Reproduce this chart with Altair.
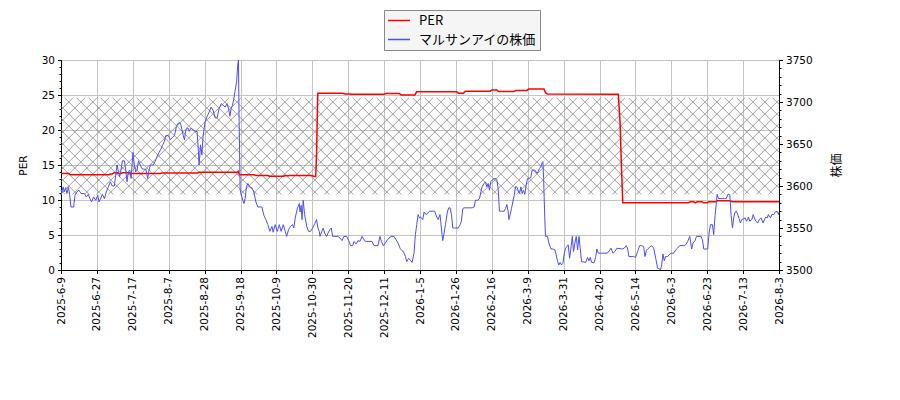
import pandas as pd
import altair as alt

# x is a position index along the time axis (one tick every 21 units, 20 intervals)
tick_labels = ["2025-6-9", "2025-6-27", "2025-7-17", "2025-8-7", "2025-8-28", "2025-9-18",
               "2025-10-9", "2025-10-30", "2025-11-20", "2025-12-11", "2026-1-5", "2026-1-26",
               "2026-2-16", "2026-3-9", "2026-3-31", "2026-4-20", "2026-5-14", "2026-6-3",
               "2026-6-23", "2026-7-13", "2026-8-3"]
tick_pos = [i * 21 for i in range(len(tick_labels))]

# share price (right axis)
price_x = [0.0, 1.2, 1.9, 2.7, 3.5, 4.3, 5.1, 5.8, 7.4, 8.2, 9.2, 10.5, 11.7, 13.6, 14.8, 16.0, 16.9, 17.9, 19.1, 20.3,
           21.5, 22.2, 23.4, 24.2, 25.4, 26.5, 27.7, 28.9, 30.0, 31.2, 32.0, 32.8, 33.6, 34.3, 35.1, 35.9, 37.1, 37.9, 38.6, 39.4,
           40.2, 41.0, 42.1, 42.9, 43.7, 44.5, 45.3, 46.4, 47.2, 48.4, 49.6, 50.7, 51.5, 52.3, 53.9, 55.0, 56.2, 57.4, 58.5, 59.3,
           60.5, 61.3, 62.8, 64.0, 65.2, 66.4, 67.5, 68.7, 69.9,
           71.4, 72.2, 73.0, 74.2, 74.9, 76.1, 77.3, 78.5, 79.6, 80.4, 80.8, 81.6, 82.4, 83.1, 84.3, 85.5, 86.7, 87.8, 89.0, 90.2,
           91.3, 92.5, 93.7, 94.9, 96.0, 97.2, 98.0, 98.8, 99.5, 100.3, 101.1, 101.9, 102.7, 103.4, 103.8, 104.2, 104.8, 105.8, 107.0, 107.7,
           108.5, 109.3, 110.5, 111.6, 112.8, 114.0, 115.2, 117.5, 118.7, 119.8, 121.0, 122.2, 123.4, 124.1, 125.3, 126.5, 127.7, 128.8, 130.0, 131.2,
           132.0, 133.1, 134.3, 135.5, 136.2, 137.0, 138.2, 139.4,
           139.8, 140.5, 141.0, 141.7, 142.5, 143.7, 144.8, 146.0, 147.2, 148.4, 149.5, 150.3, 151.1, 151.5, 152.6, 153.4, 154.2, 155.4, 156.2, 157.3,
           158.1, 158.9, 160.1, 162.0, 163.2, 164.4, 165.5, 167.1, 168.3, 169.4, 170.6, 171.4, 172.6, 173.7, 174.9, 176.1, 177.2, 178.4, 180.8, 181.9,
           183.1, 185.4, 186.6, 187.4, 188.6, 189.7, 190.9, 192.1, 192.9, 194.8, 196.0, 197.2, 198.3, 199.5, 200.3, 201.5, 202.2, 203.4, 204.6, 205.4,
           206.5, 207.3, 208.1, 208.9, 209.7, 210.4, 211.6,
           212.4, 213.5, 214.3, 215.5, 218.6, 219.8, 220.6, 221.7, 222.1, 222.9, 223.3, 224.1, 224.9, 226.0, 226.8, 227.6, 228.4, 229.2, 230.3, 232.3,
           233.5, 234.2, 235.0, 235.8, 240.5, 241.7, 242.4, 243.6, 244.8, 245.6, 246.3, 247.5, 248.3, 249.1, 249.9, 250.6, 251.4, 252.6, 253.8, 254.9,
           255.7, 256.5, 257.7, 259.2, 260.0, 260.8, 261.6, 262.0, 262.7, 263.5, 264.3, 265.1, 265.9, 266.6, 267.4, 268.2, 269.0, 269.8, 270.5, 271.3,
           272.1, 272.9, 273.7, 274.8, 275.6, 277.2, 278.4, 279.1, 279.9, 280.7, 281.5,
           281.9, 282.3, 282.7, 283.0, 283.4, 284.6, 285.4, 286.6, 287.7, 288.9, 289.7, 290.5, 291.2, 292.0, 292.8, 293.6, 294.4, 295.2, 295.9, 296.7,
           297.5, 298.3, 299.1, 299.8, 300.6, 301.4, 302.2, 303.0, 303.7, 304.5, 306.9, 308.0, 308.8, 309.6, 310.4, 311.9, 312.7, 313.5, 314.3, 319.4,
           320.5, 321.7, 322.9, 324.0, 325.2, 328.3, 329.5, 330.7, 331.5, 332.2, 335.0, 336.1, 337.3, 338.5, 339.7, 340.8, 341.6, 342.4, 343.2, 344.3,
           345.5, 346.7, 347.9, 349.0, 349.8,
           350.6, 351.4, 352.1, 352.9, 353.7, 354.9, 356.1, 357.2, 358.4, 359.6, 360.7, 361.9, 364.3, 365.4, 366.6, 367.8, 368.9, 369.7, 370.9, 371.7,
           374.4, 375.2, 376.0, 378.3, 379.1, 379.9, 381.0, 381.8, 382.6, 383.4, 383.8, 384.6, 388.1, 389.2, 390.0, 391.2, 392.0, 392.8, 393.5, 394.3,
           395.1, 395.9, 396.7, 397.4, 398.2, 399.4, 400.2, 401.0, 402.1, 402.9, 404.1, 404.9, 405.6, 406.4, 407.6, 408.4, 409.5, 410.7, 411.5, 412.3,
           413.1, 413.8, 415.0, 415.8, 417.0, 417.8, 418.9, 419.7, 420.0]
price_y = [3589, 3599, 3593, 3598, 3591, 3599, 3589, 3575, 3575, 3589, 3593, 3595, 3591, 3591, 3587, 3590, 3585, 3581, 3587, 3583,
           3589, 3581, 3586, 3590, 3585, 3593, 3599, 3605, 3600, 3600, 3613, 3625, 3617, 3611, 3619, 3630, 3630, 3619, 3605, 3617,
           3619, 3609, 3640, 3625, 3617, 3619, 3630, 3625, 3621, 3620, 3620, 3609, 3619, 3625, 3625, 3629, 3635, 3640, 3644, 3648,
           3653, 3660, 3660, 3655, 3658, 3660, 3671, 3675, 3675,
           3661, 3655, 3667, 3669, 3665, 3669, 3667, 3665, 3665, 3641, 3625, 3649, 3637, 3659, 3677, 3683, 3688, 3694, 3690, 3681,
           3681, 3692, 3698, 3696, 3694, 3698, 3692, 3683, 3692, 3696, 3704, 3714, 3724, 3744, 3750, 3677, 3595, 3587, 3579, 3585,
           3599, 3603, 3599, 3598, 3593, 3581, 3575, 3575, 3565, 3560, 3554, 3546, 3552, 3545, 3554, 3546, 3554, 3546, 3554, 3546,
           3540, 3548, 3552, 3554, 3550, 3562, 3573, 3579,
           3569, 3577, 3560, 3583, 3566, 3552, 3546, 3546, 3550, 3555, 3560, 3550, 3546, 3540, 3546, 3550, 3544, 3540, 3544, 3548,
           3550, 3540, 3540, 3540, 3538, 3535, 3540, 3540, 3535, 3529, 3529, 3534, 3531, 3535, 3534, 3540, 3536, 3534, 3534, 3534,
           3529, 3529, 3540, 3534, 3529, 3532, 3536, 3538, 3540, 3540, 3536, 3532, 3526, 3523, 3522, 3516, 3510, 3514, 3511, 3509,
           3520, 3542, 3554, 3566, 3562, 3563, 3560,
           3569, 3566, 3567, 3570, 3570, 3563, 3560, 3566, 3558, 3542, 3535, 3544, 3554, 3569, 3574, 3574, 3566, 3550, 3550, 3550,
           3554, 3558, 3573, 3574, 3574, 3575, 3583, 3583, 3585, 3593, 3599, 3603, 3605, 3599, 3603, 3595, 3605, 3608, 3609, 3608,
           3597, 3570, 3570, 3570, 3573, 3578, 3569, 3560, 3566, 3573, 3581, 3589, 3599, 3599, 3595, 3591, 3599, 3591, 3595, 3590,
           3601, 3609, 3609, 3610, 3619, 3619, 3615, 3617, 3621, 3623, 3628,
           3629, 3609, 3581, 3562, 3540, 3540, 3532, 3525, 3525, 3524, 3518, 3510, 3506, 3509, 3506, 3508, 3520, 3526, 3528, 3530,
           3514, 3526, 3540, 3522, 3532, 3540, 3524, 3540, 3526, 3510, 3509, 3515, 3511, 3515, 3509, 3509, 3515, 3525, 3520, 3520,
           3522, 3526, 3520, 3522, 3526, 3525, 3526, 3529, 3525, 3516, 3516, 3515, 3522, 3529, 3529, 3528, 3516, 3523, 3525, 3527,
           3529, 3526, 3514, 3502, 3502,
           3500, 3506, 3519, 3511, 3516, 3516, 3519, 3520, 3520, 3524, 3526, 3529, 3529, 3530, 3534, 3540, 3525, 3532, 3535, 3540,
           3540, 3536, 3525, 3525, 3544, 3554, 3554, 3542, 3565, 3581, 3590, 3585, 3585, 3585, 3590, 3590, 3565, 3550, 3562, 3569,
           3570, 3566, 3561, 3556, 3560, 3561, 3562, 3558, 3563, 3558, 3560, 3566, 3562, 3558, 3556, 3560, 3562, 3556, 3560, 3563,
           3562, 3566, 3562, 3566, 3566, 3569, 3570, 3566, 3569]

# PER (left axis)
per_x = [0, 4.5, 5.5, 28, 29, 30, 31, 33, 34, 35, 36, 40, 41, 58, 59, 80, 81, 103, 103.6, 104.4,
         113, 114, 121, 122, 130, 131, 133, 134, 147, 148, 149, 149.5, 150.2, 165, 166, 169, 170, 189, 190, 198,
         199, 207, 208, 231.5, 232.5, 235.5, 236.5, 251, 252, 255, 256, 265, 266, 272.5, 273.5, 282.5, 283.5, 284.5, 326, 327,
         328, 328.6, 367, 368, 370, 371, 372, 375, 376, 378, 379, 383, 384, 391.5, 392.5, 420]
per_y = [13.8, 13.8, 13.6, 13.6, 13.7, 13.7, 13.9, 13.9, 13.8, 13.8, 13.9, 13.9, 13.8, 13.8, 13.85, 13.85, 13.95, 13.95, 14.1, 13.6,
         13.6, 13.5, 13.5, 13.4, 13.4, 13.45, 13.45, 13.5, 13.5, 13.35, 13.35, 16.7, 25.25, 25.25, 25.15, 25.15, 25.1, 25.1, 25.2, 25.2,
         25.0, 25.0, 25.45, 25.45, 25.25, 25.25, 25.55, 25.55, 25.7, 25.7, 25.5, 25.5, 25.65, 25.65, 25.85, 25.85, 25.3, 25.15, 25.1, 21.2,
         13.6, 9.6, 9.6, 9.75, 9.75, 9.6, 9.75, 9.75, 9.6, 9.6, 9.75, 9.75, 9.9, 9.9, 9.75, 9.75]

band_low, band_high = 10.8, 24.6
series_names = ["PER", "マルサンアイの株価"]
series_colors = ["#ff0000", "#4d4dff"]

assert len(price_x) == len(price_y) and len(per_x) == len(per_y)

W, H = 718, 210
X_MAX = 420

price_df = pd.DataFrame({"x": price_x, "v": price_y, "series": series_names[1]})
per_df = pd.DataFrame({"x": per_x, "v": per_y, "series": series_names[0]})

# cross hatch for the band, lines at 45 degrees in screen space
step = 12
yb, yt = band_low / 30 * H, band_high / 30 * H
segs = []
c = -yt - step
while c < W + yt + step:
    a, b = max(0, yb + c), min(W, yt + c)
    if a < b:
        segs.append((a, a - c, b, b - c))
    a, b = max(0, c - yt), min(W, c - yb)
    if a < b:
        segs.append((a, c - a, b, c - b))
    c += step
hatch_df = pd.DataFrame([{"x": s[0] * X_MAX / W, "y": s[1] * 30 / H,
                          "x2": s[2] * X_MAX / W, "y2": s[3] * 30 / H} for s in segs])

label_js = "[" + ",".join("'" + t + "'" for t in tick_labels) + "]"
x_enc = alt.X("x:Q", scale=alt.Scale(domain=[0, X_MAX], nice=False, zero=False),
              axis=alt.Axis(values=tick_pos, labelExpr=label_js + "[round(datum.value/21)]",
                            labelAngle=270, title=None, grid=True, gridColor="#c4c4c4",
                            domainColor="#000000", tickColor="#000000", tickSize=3.5,
                            labelFontSize=10.5, labelFont="DejaVu Sans", labelColor="#000000",
                            labelPadding=3))

color_enc = alt.Color("series:N", scale=alt.Scale(domain=series_names, range=series_colors),
                      legend=alt.Legend(title=None, orient="none", legendX=323, legendY=-50,
                                        symbolType="stroke", symbolSize=484, symbolStrokeWidth=1.5,
                                        clipHeight=15,
                                        labelFont="Noto Sans CJK JP", labelFontSize=13, labelColor="#000000",
                                        fillColor="#f5f5f5", strokeColor="#888888", padding=3,
                                        rowPadding=4, labelOffset=8))

per_scale = alt.Scale(domain=[0, 30], nice=False, zero=False)
price_scale = alt.Scale(domain=[3500, 3750], nice=False, zero=False)

hatch = alt.Chart(hatch_df).mark_rule(color="#949494", strokeWidth=0.9).encode(
    x=x_enc, x2="x2:Q",
    y=alt.Y("y:Q", scale=per_scale, axis=None), y2="y2:Q")

per_line = alt.Chart(per_df).mark_line(strokeWidth=1.5).encode(
    x=x_enc,
    y=alt.Y("v:Q", scale=per_scale,
            axis=alt.Axis(orient="left", values=[0, 5, 10, 15, 20, 25, 30], title="PER", grid=True,
                          gridColor="#c4c4c4", domainColor="#000000", tickColor="#000000", tickSize=3.5,
                          labelFontSize=10.5, labelFont="DejaVu Sans", labelColor="#000000", labelPadding=3,
                          titleFont="DejaVu Sans", titleFontSize=10.5, titleFontWeight="normal",
                          titleColor="#000000", titlePadding=13)),
    color=color_enc)

per_minor = alt.Chart(pd.DataFrame({"v": [0]})).mark_point(opacity=0).encode(
    x=alt.value(0),
    y=alt.Y("v:Q", scale=per_scale,
            axis=alt.Axis(orient="left", values=list(range(31)), labels=False, tickSize=2,
                          tickColor="#000000", domain=False, grid=False, title=None)))

price_line = alt.Chart(price_df).mark_line(strokeWidth=1).encode(
    x=x_enc,
    y=alt.Y("v:Q", scale=price_scale,
            axis=alt.Axis(orient="right", values=[3500, 3550, 3600, 3650, 3700, 3750], format="d",
                          title="株価",
                          grid=False, domainColor="#000000", tickColor="#000000", tickSize=3.5,
                          labelFontSize=10.5, labelFont="DejaVu Sans", labelColor="#000000", labelPadding=3,
                          titleFont="Noto Sans CJK JP", titleFontSize=12, titleFontWeight="normal",
                          titleColor="#000000", titleAngle=270, titlePadding=31)),
    color=color_enc)

price_minor = alt.Chart(pd.DataFrame({"v": [3500]})).mark_point(opacity=0).encode(
    x=alt.value(0),
    y=alt.Y("v:Q", scale=price_scale,
            axis=alt.Axis(orient="right", values=list(range(3500, 3751, 10)), labels=False, tickSize=2,
                          tickColor="#000000", domain=False, grid=False, title=None)))

chart = alt.layer(hatch, per_line, per_minor, price_line, price_minor).resolve_scale(
    y="independent"
).properties(
    width=W, height=H,
    autosize=alt.AutoSizeParams(type="none"),
    padding={"left": 53, "top": 52, "right": 110, "bottom": 110},
    background="#ffffff",
).configure_view(stroke=None)

chart.save("out.html", embed_options={"renderer": "svg", "actions": False})
